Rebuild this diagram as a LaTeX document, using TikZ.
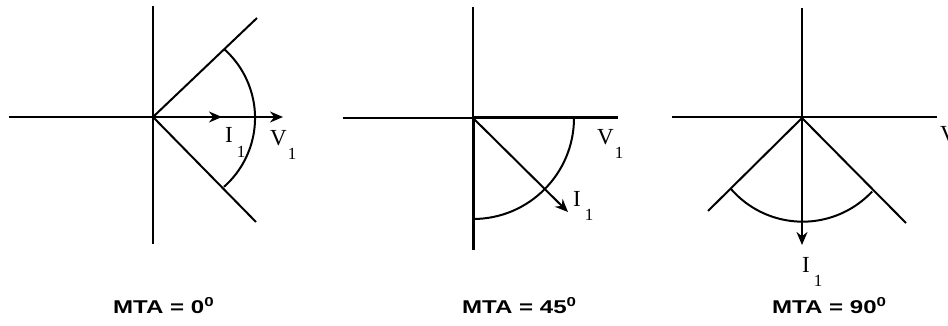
\documentclass[tikz,border=0pt]{standalone}
\usepackage{fontspec}
\usepackage{graphicx}
\usepackage{xcolor}
\usepackage{tikz}
\usetikzlibrary{arrows.meta}
\setmainfont{Liberation Serif}
\newfontfamily\mtafont{Liberation Sans}
\definecolor{ink}{RGB}{0,0,0}
\def\OyA{117}
\newcommand\phsr[2][4pt]{#2\kern#1\raisebox{-14pt}{\fontsize{17}{17}\selectfont 1}}
\newcommand\mtatext[1]{\scalebox{1.3}[1]{MTA = #1\textsuperscript{0}}}
\tikzset{
  axis/.style={draw=ink, line width=2pt},
  heavy/.style={draw=ink, line width=3pt},
  vec/.style={-{Stealth[length=13pt,width=11pt]}, draw=ink, line width=2pt},
  sweep/.style={draw=ink, line width=2pt},
  phs/.style={
    anchor=base west, inner sep=0pt, text=ink,
    font=\fontsize{23}{23}\selectfont,
  },
  mta/.style={
    anchor=base west, inner sep=0pt, text=ink,
    font=\mtafont\bfseries\fontsize{18.5}{18.5}\selectfont,
  },
}

\begin{document}
\begin{tikzpicture}[x=1pt,y=-1pt]
  \useasboundingbox (0,0) rectangle (948,326);

  % MTA = 0
  \coordinate (o1) at (153,\OyA);
  \coordinate (o1n) at (153,6);
  \coordinate (o1s) at (153,244);
  \coordinate (o1w) at (9,\OyA);
  \coordinate (o1e) at (283,\OyA);
  \coordinate (o1i) at (222,\OyA);
  \coordinate (o1u) at (257,18);
  \coordinate (o1d) at (256,222);
  \coordinate (a1) at (224,49);
  \draw[axis] (o1n) -- (o1s);
  \draw[vec] (o1w) -- (o1e);
  \draw[vec] (o1) -- (o1i);
  \draw[axis] (o1) -- (o1u);
  \draw[axis] (o1) -- (o1d);
  \draw[sweep] (a1) arc[start angle=-48.5, end angle=48.5, radius=92];
  \node[phs] (i1) at (225,143) {\phsr{I}};
  \node[phs] (v1) at (270,146) {\phsr[1pt]{V}};
  \node[mta] (t1) at (113,313) {\mtatext{0}};

  % MTA = 45
  \coordinate (o2) at (473,118);
  \coordinate (o2n) at (473,7);
  \coordinate (o2s) at (473,250);
  \coordinate (o2w) at (343,118);
  \coordinate (o2e) at (618,118);
  \coordinate (o2i) at (568,212);
  \coordinate (a2) at (574,118);
  \draw[axis] (o2w) -- (o2);
  \draw[axis] (o2n) -- (o2);
  \draw[heavy] (o2) -- (o2e);
  \draw[heavy] (o2) -- (o2s);
  \draw[vec] (o2) -- (o2i);
  \draw[sweep] (a2) arc[start angle=0, end angle=90, radius=101];
  \node[phs] (v2) at (597,145) {\phsr[1pt]{V}};
  \node[phs] (i2) at (573,206) {\phsr{I}};
  \node[mta] (t2) at (462,313) {\mtatext{45}};

  % MTA = 90
  \coordinate (o3) at (802,118);
  \coordinate (o3n) at (802,8);
  \coordinate (o3i) at (802,245);
  \coordinate (o3w) at (672,117);
  \coordinate (o3e) at (937,117);
  \coordinate (o3l) at (708,211);
  \coordinate (o3r) at (906,223);
  \coordinate (a3) at (731,189);
  \draw[axis] (o3w) -- (o3e);
  \draw[vec] (o3n) -- (o3i);
  \draw[axis] (o3) -- (o3l);
  \draw[axis] (o3) -- (o3r);
  \draw[sweep] (a3) arc[start angle=139, end angle=43, radius=95];
  \node[phs] (v3) at (940,142) {\phsr[1pt]{V}};
  \node[phs] (i3) at (802,272) {\phsr{I}};
  \node[mta] (t3) at (772,313) {\mtatext{90}};
\end{tikzpicture}
\end{document}
